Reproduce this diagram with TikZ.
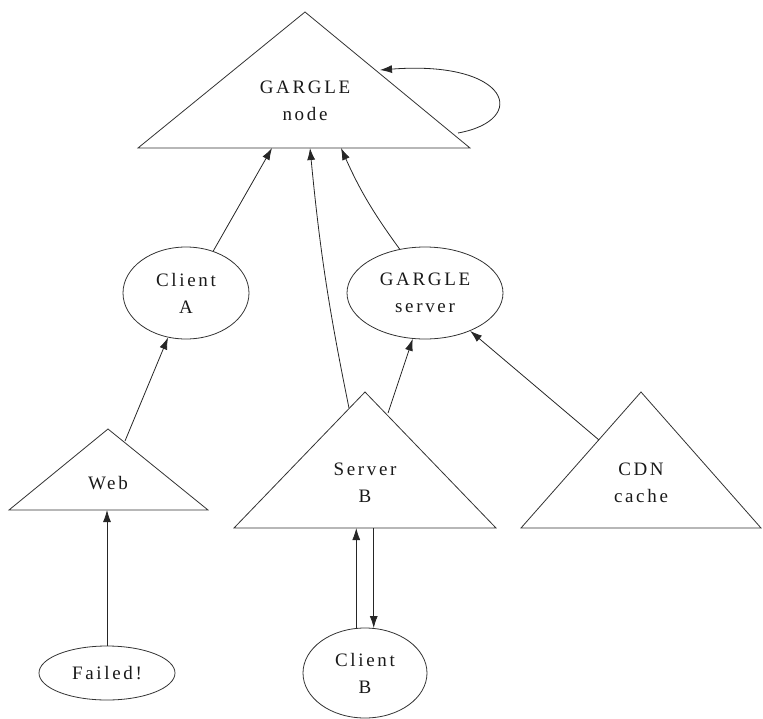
\documentclass[tikz,border=0pt]{standalone}
\usepackage{fontspec}
\setmainfont{Liberation Serif}[LetterSpace=14]
\usetikzlibrary{arrows.meta,shapes.geometric}
\begin{document}
\begin{tikzpicture}[x=1pt,y=-1pt,
  line width=0.8pt,
  lbl/.style={align=center,font=\fontsize{19}{27}\selectfont,inner sep=0pt,text=black!90},
  ell/.style={ellipse,draw=black!80,inner sep=0pt,line width=0.8pt},
  tri/.style={draw=black!80,line width=0.8pt},
  arr/.style={-{Latex[length=12pt,width=8pt]},draw=black!85}]
\useasboundingbox (0,0) rectangle (763,718);
% triangles
\draw[tri] (305,12) -- (470,148) -- (138,148) -- cycle;
\draw[tri] (108,429) -- (208,510) -- (9,510) -- cycle;
\draw[tri] (365,392) -- (496,528) -- (234,528) -- cycle;
\draw[tri] (641,392) -- (761,528) -- (521,528) -- cycle;
% labels of triangles
\node[lbl] (gn) at (305,101) {GARGLE\\node};
\node[lbl] (web) at (108,483) {Web};
\node[lbl] (sb) at (365,483) {Server\\B};
\node[lbl] (cdn) at (641,483) {CDN\\cache};
% ellipses
\node[ell,minimum width=126pt,minimum height=92pt] (ca) at (186,293) {};
\node[lbl] at (ca.center) {Client\\A};
\node[ell,minimum width=156pt,minimum height=92pt] (gs) at (425,293) {};
\node[lbl] at (gs.center) {GARGLE\\server};
\node[ell,minimum width=136pt,minimum height=54pt] (fl) at (107,673) {};
\node[lbl] at (fl.center) {Failed!};
\node[ell,minimum width=124pt,minimum height=90pt] (cb) at (365,673) {};
\node[lbl] at (cb.center) {Client\\B};
% connection points
\coordinate (gnA) at (272,148);
\coordinate (gnB) at (310,148);
\coordinate (gnC) at (341,148);
\coordinate (gnLoopIn) at (380,70);
\coordinate (gnLoopOut) at (458,133);
\coordinate (webTop) at (125,441);
\coordinate (webBase) at (108,510);
\coordinate (sbL) at (349,408);
\coordinate (sbR) at (388,413);
\coordinate (sbBase) at (365,528);
\coordinate (cdnL) at (599,440);
% connectors
\draw[arr] (gnLoopOut) .. controls (530,120) and (510,60) .. (gnLoopIn);
\draw[arr] (ca.57) -- (gnA);
\draw[arr] (gs.120) to[bend left=6] (gnC);
\draw[arr] (sbL) to[bend left=3] (gnB);
\draw[arr] (webTop) -- (ca.248);
\draw[arr] (sbR) -- (gs.255);
\draw[arr] (cdnL) -- (gs.320);
\draw[arr] (fl.north) -- (fl.north |- webBase);
\draw[arr] (cb.101) -- (cb.101 |- sbBase);
\draw[arr] (cb.79 |- sbBase) -- (cb.79);
\end{tikzpicture}
\end{document}
